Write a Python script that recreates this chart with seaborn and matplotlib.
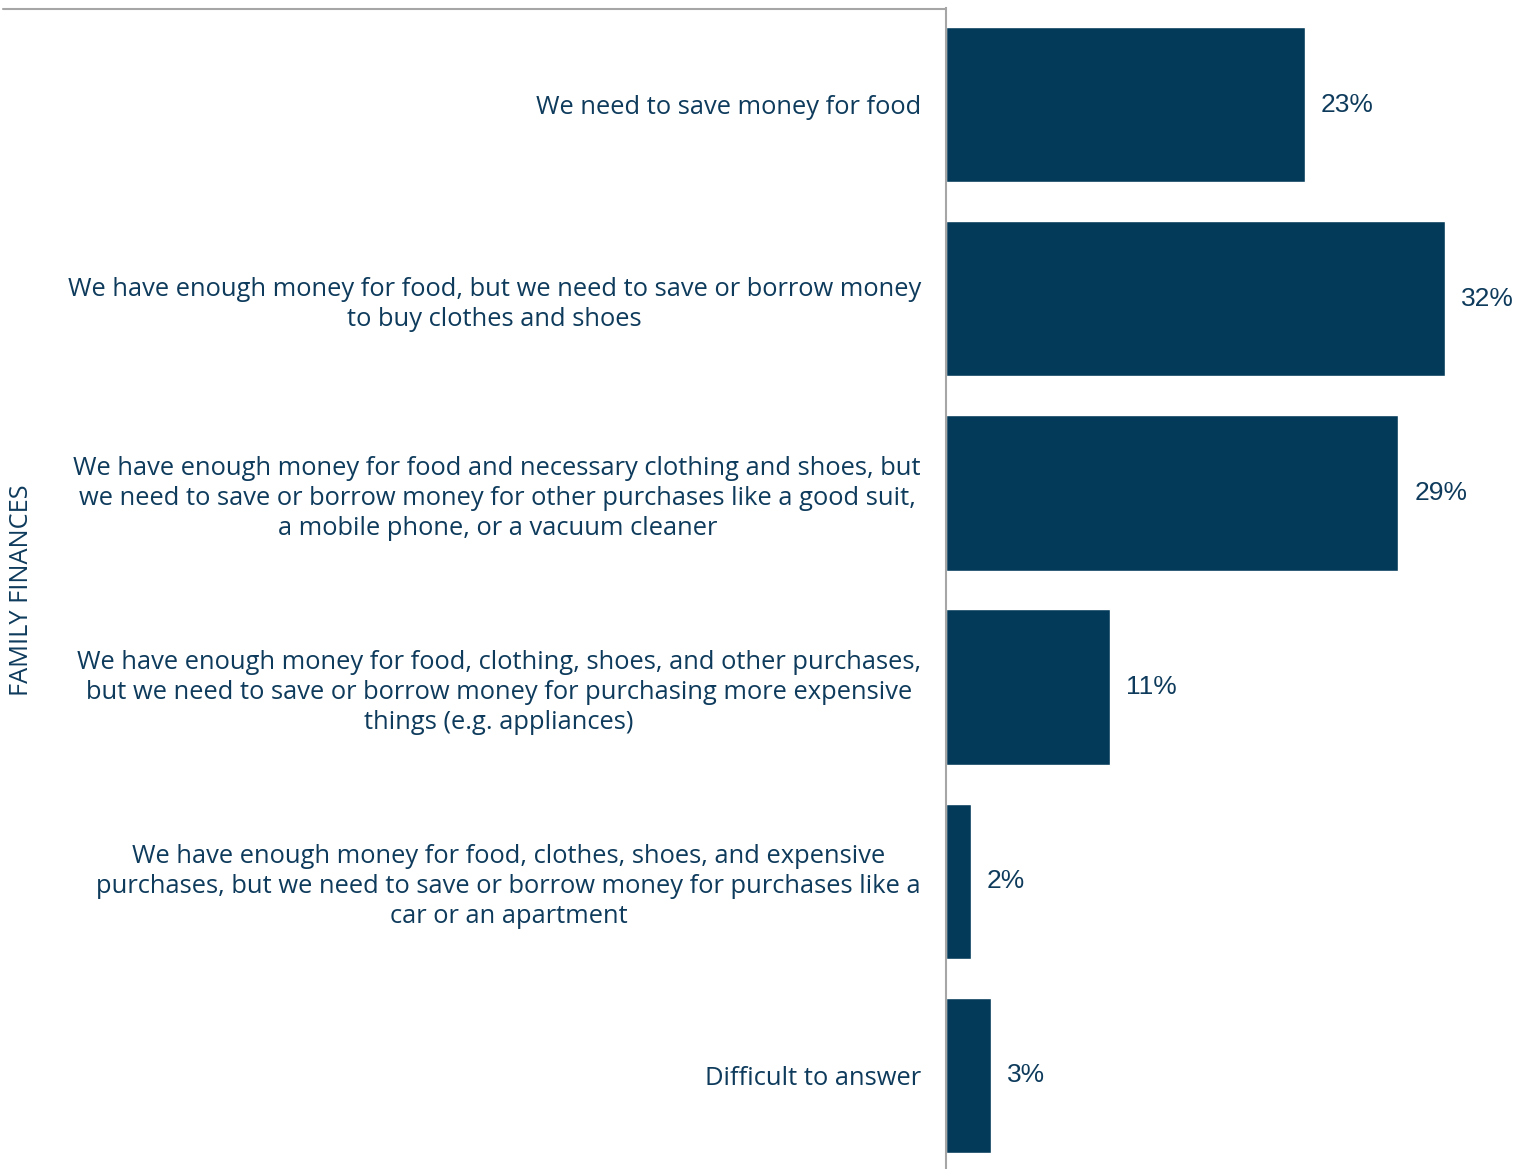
import matplotlib.pyplot as plt
import seaborn as sns
from matplotlib.lines import Line2D

# answers and shares (%)
categories = [
    'We need to save money for food',
    'We have enough money for food, but we need to save or borrow money\nto buy clothes and shoes',
    'We have enough money for food and necessary clothing and shoes, but\nwe need to save or borrow money for other purchases like a good suit,\na mobile phone, or a vacuum cleaner',
    'We have enough money for food, clothing, shoes, and other purchases,\nbut we need to save or borrow money for purchasing more expensive\nthings (e.g. appliances)',
    'We have enough money for food, clothes, shoes, and expensive\npurchases, but we need to save or borrow money for purchases like a\ncar or an apartment',
    'Difficult to answer',
]
values = [23.0, 32.0, 29.0, 10.5, 1.6, 2.9]
value_labels = ['23%', '32%', '29%', '11%', '2%', '3%']

bar_color = '#033A5A'
text_color = '#0E3B5C'
axis_color = '#A6A6A6'

sns.set_style('white')
plt.rcParams['font.family'] = ['Open Sans', 'DejaVu Sans']

W, H = 1517, 1169
fig = plt.figure(figsize=(W / 100, H / 100), dpi=100)
ax = fig.add_axes([946 / W, -3.5 / H, 1 - 946 / W, 1165 / H])

sns.barplot(x=values, y=categories, color=bar_color, width=0.8,
            orient='h', saturation=1, ax=ax)

ax.set_xlim(0, 36.6)
ax.set_ylim(5.5, -0.5)
ax.set_xticks([])
ax.set_xlabel('')
ax.set_ylabel('')

for lab in ax.get_yticklabels():
    lab.set_multialignment('center')
    lab.set_linespacing(1.25)
ax.tick_params(axis='y', length=0, pad=18, labelsize=18.4, labelcolor=text_color)

ax.bar_label(ax.containers[0], labels=value_labels, padding=11.5,
             fontsize=19, color=text_color,
             family=['Liberation Sans Narrow', 'Liberation Sans'])

for s in ['top', 'right', 'bottom']:
    ax.spines[s].set_visible(False)
ax.spines['left'].set_color(axis_color)
ax.spines['left'].set_linewidth(1.5)

# group border line across the top of the label area
fig.add_artist(Line2D([3 / W, 946 / W], [1 - 9 / H, 1 - 9 / H],
                      color=axis_color, lw=1.5, transform=fig.transFigure))

fig.text(22 / W, 1 - 590 / H, 'FAMILY FINANCES', rotation=90,
         ha='center', va='center', fontsize=18.3, color=text_color)

plt.savefig('out.png', dpi=100)
